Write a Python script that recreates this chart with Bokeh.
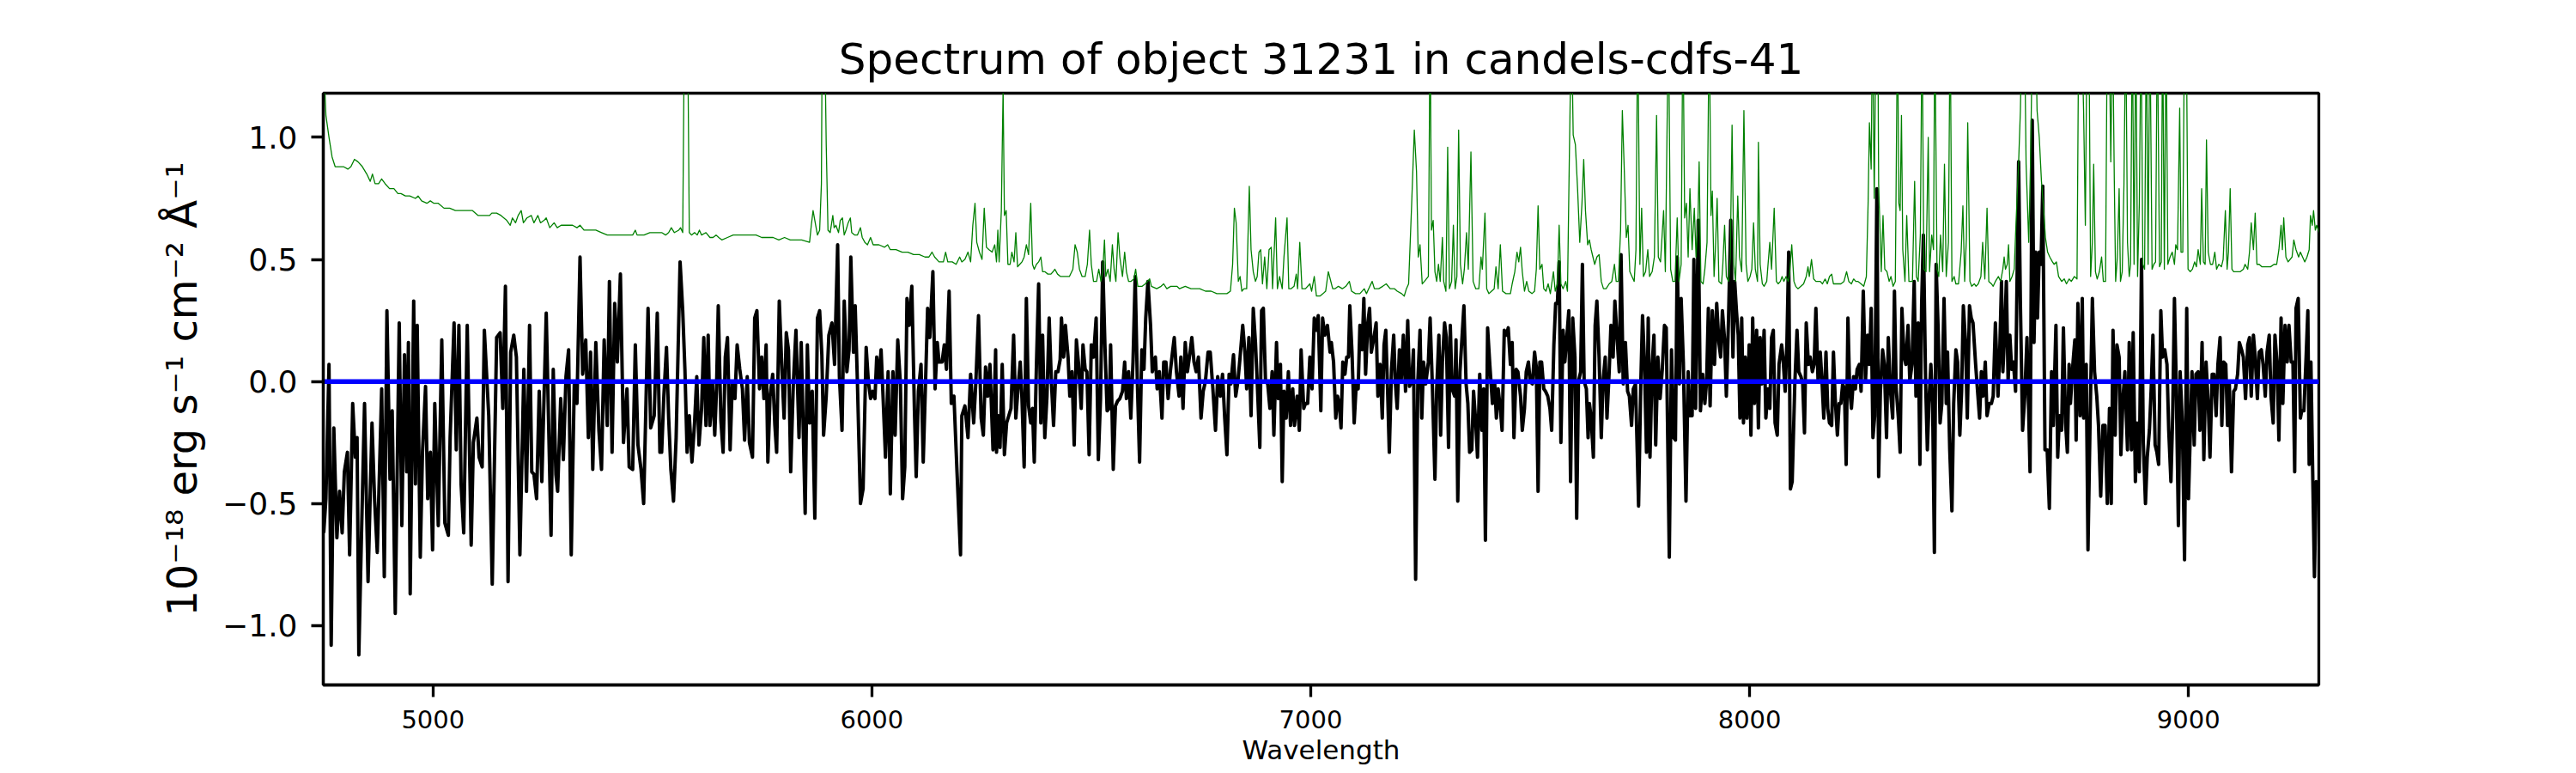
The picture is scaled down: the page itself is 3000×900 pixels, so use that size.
from bokeh.plotting import figure
from bokeh.models import Range1d, FixedTicker, CustomJSTickFormatter
from bokeh.embed import file_html
from bokeh.resources import INLINE

title_text = "Spectrum of object 31231 in candels-cdfs-41"
x_label = "Wavelength"
y_label = "10⁻¹⁸ erg s⁻¹ cm⁻² Å⁻¹"
x_ticks = [5000, 6000, 7000, 8000, 9000]
y_ticks = [-1.0, -0.5, 0.0, 0.5, 1.0]

# observed 1D spectrum (black)
wavelength = [
    4751, 4756, 4763, 4768, 4774, 4781, 4787, 4793, 4798, 4805,
    4810, 4817, 4823, 4827, 4831, 4837, 4844, 4852, 4861, 4867,
    4873, 4878, 4883, 4889, 4895, 4902, 4907, 4914, 4923, 4929,
    4935, 4940, 4944, 4948, 4956, 4960, 4964, 4971, 4976, 4983,
    4988, 4994, 4999, 5004, 5012, 5020, 5027, 5035, 5039, 5048,
    5053, 5059, 5064, 5070, 5078, 5087, 5092, 5100, 5105, 5112,
    5117, 5127, 5135, 5145, 5153, 5159, 5165, 5171, 5177, 5184,
    5190, 5198, 5207, 5213, 5220, 5225, 5230, 5236, 5242, 5248,
    5258, 5264, 5269, 5274, 5280, 5284, 5291, 5297, 5303, 5309,
    5315, 5322, 5328, 5335, 5341, 5348, 5354, 5359, 5364, 5371,
    5378, 5384, 5390, 5397, 5402, 5408, 5414, 5420, 5427, 5434,
    5442, 5447, 5455, 5461, 5467, 5474, 5480, 5485, 5490, 5496,
    5504, 5511, 5517,
    5521, 5526, 5532, 5537, 5542, 5548, 5554, 5563, 5569, 5574,
    5579, 5584, 5590, 5596, 5601, 5606, 5612, 5617, 5622, 5627,
    5631, 5637, 5642, 5646, 5650, 5656, 5661, 5666, 5671, 5677,
    5682, 5688, 5693, 5699, 5705, 5710, 5716, 5721, 5728, 5733,
    5738, 5744, 5749, 5754, 5759, 5763, 5768, 5774, 5779, 5783,
    5789, 5795, 5800, 5805, 5810, 5815, 5821, 5827, 5834, 5839,
    5843, 5848, 5853, 5858, 5864, 5870, 5876, 5881, 5886, 5890,
    5896, 5902, 5909, 5915, 5922, 5926, 5932, 5937, 5943, 5948,
    5952, 5958, 5962, 5967, 5974, 5980, 5987, 5992, 5997, 6002,
    6007, 6011, 6016, 6021, 6025, 6031, 6037, 6042, 6048, 6053,
    6059, 6065, 6070, 6075, 6080, 6085, 6091, 6097, 6101, 6106,
    6112, 6117, 6123, 6127, 6132, 6139, 6144, 6149, 6153, 6160,
    6165, 6170, 6176, 6181, 6187, 6194, 6202, 6205, 6212, 6219,
    6225, 6232, 6237, 6243, 6249, 6254, 6259, 6264, 6269, 6276,
    6282,
    6284, 6288, 6292, 6297, 6302, 6307, 6312, 6317, 6323, 6328,
    6333, 6338, 6342, 6347, 6352, 6357, 6362, 6366, 6370, 6375,
    6380, 6385, 6389, 6394, 6399, 6404, 6409, 6414, 6419, 6424,
    6429, 6432, 6437, 6441, 6447, 6451, 6456, 6461, 6466, 6471,
    6477, 6481, 6486, 6490, 6495, 6500, 6505, 6511, 6516, 6521,
    6526, 6531, 6536, 6541, 6544, 6550, 6555, 6560, 6565, 6571,
    6576, 6580, 6585, 6590, 6595, 6600, 6605, 6610, 6615, 6620,
    6624, 6629, 6635, 6639, 6646, 6650, 6655, 6661, 6665, 6670,
    6675, 6680, 6685, 6689, 6694, 6700, 6704, 6709, 6714, 6719,
    6725, 6729, 6734, 6739, 6744, 6750, 6755, 6760, 6766, 6771,
    6777, 6783, 6788, 6794, 6799, 6804, 6809, 6814, 6818, 6824,
    6829, 6834, 6839, 6845, 6850, 6854, 6859, 6864, 6869, 6874,
    6878, 6884, 6888, 6892, 6897, 6902, 6907, 6912, 6916, 6922,
    6926, 6931, 6935, 6939, 6944, 6949, 6954, 6959, 6963, 6969,
    6974, 6978, 6984, 6988, 6993, 6998, 7003, 7008, 7013, 7017,
    7023, 7027, 7032, 7038, 7044,
    7047, 7052, 7057, 7061, 7065, 7069, 7073, 7078, 7082, 7086,
    7089, 7094, 7099, 7104, 7108, 7112, 7117, 7121, 7125, 7130,
    7134, 7138, 7144, 7149, 7153, 7158, 7163, 7167, 7171, 7175,
    7179, 7184, 7189, 7193, 7197, 7202, 7206, 7211, 7216, 7221,
    7225, 7230, 7234, 7239, 7244, 7249, 7253, 7257, 7262, 7268,
    7272, 7277, 7283, 7287, 7292, 7296, 7300, 7305, 7309, 7314,
    7318, 7322, 7328, 7331, 7335, 7340, 7345, 7349, 7354, 7358,
    7362, 7367, 7371, 7376, 7380, 7385, 7390, 7394, 7398, 7403,
    7408, 7414, 7419, 7423, 7427, 7432, 7436, 7441, 7446, 7450,
    7455, 7459, 7463, 7468, 7472, 7478, 7482, 7487, 7491, 7496,
    7500, 7505, 7510, 7514, 7518, 7522, 7526, 7531, 7535, 7540,
    7545, 7549, 7554, 7558, 7562, 7566, 7570, 7575, 7579, 7583,
    7588, 7592, 7597, 7602, 7606, 7610, 7615, 7619, 7623, 7628,
    7632, 7635, 7639, 7644, 7648, 7652, 7657, 7662, 7666, 7671,
    7675, 7680, 7684, 7689, 7693, 7698, 7703, 7707, 7712, 7717,
    7722, 7726, 7731, 7735, 7740, 7744, 7747, 7752, 7756, 7760,
    7765, 7769, 7773, 7778, 7782, 7786, 7791, 7796, 7801, 7806,
    7810, 7817, 7822, 7827, 7831, 7835, 7840, 7844, 7849, 7855,
    7860, 7864, 7869, 7873, 7877, 7883, 7888, 7893, 7898, 7902,
    7906, 7910, 7915, 7920, 7925, 7930, 7934, 7938, 7943, 7947,
    7952, 7957, 7962, 7966, 7970, 7974, 7978, 7982, 7986, 7990,
    7994, 7999, 8003, 8007, 8011, 8016, 8020, 8024, 8028, 8033,
    8037, 8042, 8046, 8050, 8054, 8058, 8063, 8067, 8073, 8076,
    8081, 8085, 8089, 8093, 8097, 8103, 8108, 8112, 8117, 8121,
    8125, 8129, 8134, 8138, 8143, 8147, 8151, 8156, 8161, 8165,
    8169, 8174, 8178, 8182, 8187, 8191, 8195, 8200, 8204, 8208,
    8212, 8216, 8220, 8224, 8228, 8232, 8237, 8241, 8245, 8250,
    8254, 8259, 8264, 8269, 8273, 8277, 8281, 8285, 8290, 8294,
    8298, 8303, 8307, 8312, 8316, 8321, 8326, 8330, 8334, 8339,
    8343, 8347, 8352, 8356, 8361, 8365, 8370, 8375, 8379, 8384,
    8388, 8392, 8396, 8401, 8405, 8409, 8413, 8417, 8421, 8425,
    8430, 8434, 8438, 8443, 8448, 8451, 8456, 8461, 8465, 8470,
    8474, 8479, 8483, 8487, 8492, 8496, 8501, 8505, 8509, 8515,
    8519, 8524, 8528, 8532, 8537, 8541, 8546, 8551, 8555, 8560,
    8566, 8570,
    8574, 8577, 8581, 8585, 8589, 8593, 8597, 8601, 8606, 8613,
    8617, 8622, 8627, 8632, 8639, 8644, 8648, 8652, 8656, 8660,
    8664, 8668, 8673, 8678, 8683, 8688, 8692, 8698, 8702, 8706,
    8711, 8715, 8720, 8724, 8728, 8731, 8737, 8741, 8744, 8748,
    8753, 8758, 8761, 8767, 8771, 8776, 8781, 8786, 8791, 8795,
    8800, 8805, 8810, 8815, 8820, 8824, 8828, 8833, 8837, 8842,
    8846, 8851, 8855, 8861, 8865, 8870, 8874, 8879, 8883, 8888,
    8893, 8897, 8902, 8906, 8911, 8915, 8919, 8924, 8928, 8932,
    8937, 8941, 8946, 8951, 8955, 8960, 8964, 8968, 8972, 8977,
    8981, 8986, 8991, 8996, 9000, 9004, 9008, 9013, 9017, 9022,
    9026, 9031, 9035, 9040, 9045, 9049, 9054, 9058, 9063, 9067,
    9072, 9076, 9080, 9085, 9089, 9093, 9098, 9103, 9107, 9112,
    9116, 9121, 9125, 9130, 9135, 9139, 9143, 9148, 9152, 9157,
    9161, 9166, 9170, 9175, 9179, 9184, 9188, 9193, 9197, 9202,
    9206, 9211, 9215, 9220, 9225, 9229, 9234, 9238, 9242, 9245,
    9250, 9255, 9258, 9263, 9268, 9272, 9275, 9279, 9283, 9287,
    9291, 9295, 9298,
]
flux = [
    -0.62, -0.48, 0.07, -1.08, -0.19, -0.64, -0.45, -0.62, -0.37, -0.29,
    -0.71, -0.09, -0.31, -0.23, -1.12, -0.63, -0.09, -0.82, -0.17, -0.49,
    -0.70, -0.37, -0.03, -0.80, 0.29, -0.40, -0.12, -0.95, 0.24, -0.59,
    0.11, -0.37, 0.16, -0.87, 0.33, -0.42, 0.23, -0.72, -0.29, -0.02,
    -0.48, -0.29, -0.69, -0.09, -0.59, 0.17, -0.58, -0.63, -0.23, 0.24,
    -0.28, 0.23, -0.42, -0.62, 0.23, -0.67, -0.25, -0.15, -0.31, -0.35,
    0.21, -0.14, -0.83, 0.18, 0.20, -0.11, 0.39, -0.82, 0.12, 0.19,
    0.10, -0.71, 0.05, -0.45, 0.23, -0.37, -0.38, -0.48, -0.04, -0.41,
    0.28, -0.22, -0.63, 0.05, -0.38, -0.45, -0.07, -0.32, 0.02, 0.13,
    -0.71, 0.00, -0.09, 0.51, 0.03, 0.17, -0.23, 0.12, -0.36, 0.16,
    -0.20, -0.36, 0.17, -0.18, 0.41, -0.29, 0.32, 0.08, 0.44, -0.25,
    -0.03, -0.35, -0.36, 0.15, -0.26, -0.36, -0.50, -0.11, 0.30, -0.19,
    -0.14, 0.28, -0.29,
    -0.29, -0.06, 0.14, -0.15, -0.36, -0.49, -0.23, 0.49, 0.29, 0.05,
    -0.29, -0.14, -0.33, -0.17, 0.02, -0.26, -0.11, 0.18, -0.18, 0.19,
    -0.18, -0.01, -0.22, -0.03, 0.31, -0.16, -0.29, 0.10, 0.18, -0.28,
    0.00, -0.07, 0.15, 0.05, -0.03, -0.24, 0.02, -0.25, -0.31, 0.26,
    0.29, -0.03, 0.10, -0.07, 0.15, -0.33, -0.06, 0.03, -0.18, -0.29,
    0.33, 0.05, -0.15, 0.20, 0.13, -0.37, -0.01, 0.21, -0.23, 0.16,
    -0.15, -0.54, 0.15, -0.17, -0.04, -0.56, 0.26, 0.29, 0.11, -0.22,
    -0.06, 0.19, 0.24, 0.07, 0.56, 0.02, -0.20, 0.33, 0.04, 0.13,
    0.51, 0.12, 0.31, 0.00, -0.50, -0.44, 0.14, 0.00, -0.07, -0.04,
    -0.07, 0.10, 0.00, 0.13, -0.04, -0.31, 0.04, -0.46, 0.04, -0.22,
    0.17, -0.01, -0.48, -0.35, 0.34, 0.23, 0.39, -0.12, -0.39, -0.04,
    0.07, -0.33, 0.04, 0.30, 0.18, 0.45, -0.03, 0.16, 0.08, 0.08,
    0.15, 0.05, 0.37, -0.09, -0.06, -0.37, -0.71, -0.14, -0.10, -0.23,
    0.03, -0.17, 0.00, 0.27, -0.15, -0.22, 0.06, -0.06, 0.07, -0.28,
    0.13,
    -0.29, -0.14, -0.27, 0.07, -0.30, -0.17, -0.14, -0.11, 0.19, -0.15,
    -0.03, 0.08, -0.07, -0.35, 0.34, -0.10, -0.17, -0.11, -0.33, 0.07,
    0.40, -0.17, 0.19, -0.23, -0.06, 0.26, 0.00, -0.18, 0.04, 0.04,
    0.09, 0.26, 0.10, 0.23, 0.10, -0.06, 0.04, -0.26, 0.17, 0.07,
    -0.11, 0.15, 0.05, 0.04, -0.30, 0.15, 0.10, 0.26, -0.32, -0.07,
    0.49, 0.15, -0.12, -0.11, 0.15, -0.36, -0.10, -0.08, -0.07, -0.04,
    0.08, -0.07, 0.04, -0.15, 0.08, 0.43, -0.01, -0.33, 0.13, 0.05,
    0.26, 0.41, 0.23, 0.04, 0.10, -0.03, 0.04, -0.15, 0.08, 0.08,
    -0.07, 0.04, 0.12, 0.18, 0.04, -0.06, 0.10, -0.11, 0.16, 0.04,
    0.12, 0.18, 0.08, 0.04, 0.10, -0.15, -0.04, 0.00, 0.12, 0.12,
    -0.03, -0.20, 0.02, -0.06, 0.03, -0.15, -0.30, 0.03, -0.01, 0.11,
    -0.06, 0.00, 0.10, 0.23, 0.12, -0.03, 0.18, -0.14, 0.30, 0.16,
    0.00, -0.27, 0.29, 0.30, 0.00, -0.01, -0.11, 0.04, -0.22, 0.16,
    -0.07, 0.07, -0.41, -0.04, -0.15, 0.04, -0.18, -0.03, -0.18, -0.06,
    -0.20, 0.13, -0.11, -0.09, -0.09, 0.10, -0.03, 0.26, 0.21, 0.27,
    -0.12, 0.26, 0.19, 0.23, 0.12,
    0.16, 0.08, -0.15, -0.06, -0.09, -0.19, 0.08, 0.03, 0.10, 0.10,
    0.31, 0.12, -0.17, 0.00, -0.03, 0.23, 0.13, 0.34, 0.03, 0.24,
    0.30, 0.12, 0.18, 0.24, -0.06, 0.07, -0.15, 0.15, 0.21, -0.03,
    -0.29, 0.05, 0.19, -0.01, -0.11, 0.13, 0.00, 0.19, -0.04, 0.25,
    -0.02, 0.00, 0.13, -0.81, 0.00, 0.21, -0.15, 0.08, -0.01, 0.08,
    0.26, -0.01, -0.40, -0.03, 0.19, -0.22, 0.08, 0.24, 0.18, -0.27,
    0.23, -0.03, -0.06, 0.17, -0.49, 0.04, 0.19, 0.31, -0.01, -0.09,
    -0.29, -0.28, -0.04, -0.17, -0.31, 0.03, -0.20, -0.03, -0.65, 0.22,
    0.07, -0.09, 0.00, -0.15, -0.03, -0.11, -0.20, 0.21, 0.19, 0.22,
    0.07, 0.16, -0.23, 0.05, 0.04, -0.06, -0.20, -0.11, 0.04, 0.08,
    0.00, -0.01, 0.12, 0.06, -0.45, 0.08, 0.08, -0.03, -0.04, -0.06,
    -0.11, -0.20, 0.15, 0.32, 0.32, 0.49, -0.25, 0.21, 0.08, 0.17,
    0.29, -0.41, 0.26, 0.10, -0.56, 0.00, 0.04, 0.48, 0.00, -0.03,
    -0.23, -0.09, -0.15, -0.31, 0.23, 0.33, 0.10, -0.23, 0.00, 0.10,
    -0.15, 0.04, 0.23, 0.10, 0.33, 0.18, 0.04, 0.52, -0.01, 0.16,
    -0.04, -0.06, -0.18, -0.03, -0.01, -0.29, -0.51, -0.01, 0.27, 0.10,
    -0.29, 0.26, -0.31, 0.07, 0.19, -0.26, 0.10, -0.07, 0.05, 0.23,
    0.22, -0.72, 0.13, -0.23, -0.24, 0.51, -0.01, 0.34, 0.08, -0.49,
    0.04, -0.14, -0.14, 0.50, -0.11, 0.66, -0.12, 0.03, -0.09, 0.00,
    0.30, -0.10, 0.29, 0.07, 0.32, 0.16, 0.10, 0.29, 0.17, -0.06,
    0.26, 0.66, 0.10, 0.41, 0.29, 0.19, -0.15, 0.26, -0.17, 0.10,
    -0.15, 0.15, -0.22, 0.26, -0.09, 0.21, -0.19, 0.18, -0.01, 0.21,
    -0.15, -0.03, -0.11, 0.18, 0.21, -0.17, -0.22, 0.07, 0.15, 0.10,
    -0.04, 0.16, 0.53, -0.44, -0.41, -0.01, 0.21, 0.04, 0.02, -0.01,
    -0.21, 0.24, 0.07, 0.10, 0.04, 0.07, 0.30, 0.00, 0.12, 0.00,
    -0.15, 0.12, -0.11, -0.17, -0.18, 0.12, -0.07, -0.22, -0.09, -0.09,
    -0.01, -0.03, -0.34, 0.26, -0.03, -0.11, 0.02, -0.03, 0.05, 0.07,
    -0.04, 0.37, 0.00, 0.19, 0.07, 0.30, -0.23, -0.14, 0.79, -0.39,
    -0.04, 0.13, 0.07, -0.23, 0.18, -0.04, -0.15, 0.37, -0.03, -0.15,
    -0.29, 0.30, 0.10, 0.07, 0.23, 0.00, 0.07, 0.41, -0.06, 0.24,
    -0.34, 0.32, 0.60, 0.00, -0.28, -0.07, 0.07, -0.09, -0.70, 0.48,
    0.19, -0.17, -0.09, 0.34, -0.09, 0.12, -0.28, -0.53, -0.09, 0.13,
    0.08, -0.22, -0.04, 0.31, 0.16, -0.15, 0.31, 0.26, 0.24, 0.07,
    -0.03, -0.15, 0.04, -0.06, 0.08, -0.14, -0.09, -0.09, -0.06, 0.24,
    -0.06, 0.13,
    0.41, 0.04, 0.19, 0.41, 0.00, 0.19, 0.05, 0.08, -0.04, 0.90,
    0.32, -0.20, -0.06, 0.18, -0.37, 1.07, 0.16, 0.53, 0.26, 0.53,
    0.48, 0.80, -0.28, -0.28, -0.52, 0.04, -0.18, 0.23, -0.31, -0.14,
    -0.20, 0.22, -0.17, -0.29, 0.07, -0.09, 0.08, 0.17, -0.24, 0.32,
    -0.14, 0.34, -0.15, 0.07, -0.69, -0.14, 0.34, 0.04, -0.06, -0.18,
    -0.47, -0.18, -0.18, -0.50, -0.11, -0.50, 0.21, -0.22, 0.15, 0.10,
    -0.30, -0.06, 0.04, -0.28, 0.16, -0.28, 0.20, -0.41, -0.17, -0.37,
    0.50, -0.25, -0.50, -0.31, -0.20, -0.03, 0.19, -0.26, -0.29, -0.34,
    0.29, 0.10, 0.13, 0.07, -0.20, -0.41, -0.14, 0.34, 0.00, -0.59,
    0.04, -0.17, -0.73, 0.30, -0.48, -0.22, 0.04, -0.26, 0.03, 0.04,
    -0.20, 0.16, -0.32, 0.08, -0.09, -0.31, 0.03, 0.03, -0.14, 0.07,
    0.18, -0.18, 0.08, 0.07, -0.18, 0.00, -0.37, -0.04, -0.03, 0.03,
    0.16, 0.13, 0.10, -0.07, 0.15, 0.18, -0.06, 0.19, 0.10, -0.07,
    0.12, 0.13, 0.07, -0.06, 0.12, 0.19, -0.06, -0.17, 0.19, 0.07,
    -0.24, 0.26, -0.09, 0.23, 0.08, 0.23, 0.08, 0.08, -0.37, 0.30,
    0.34, -0.15, -0.12, -0.12, 0.10, 0.29, -0.34, 0.08, -0.37, -0.80,
    -0.41, -0.48, -0.41,
]

# sky / noise spectrum (green)
sky_wavelength = [
    4751, 4756, 4763, 4770, 4777, 4787, 4796, 4806, 4813, 4821,
    4829, 4839, 4849, 4857, 4862, 4868, 4876, 4883, 4891, 4901,
    4911, 4920, 4927, 4937, 4947, 4960, 4966, 4974, 4986, 4994,
    5002, 5012, 5025, 5038, 5051, 5064, 5077, 5090, 5103, 5116,
    5129, 5134, 5145, 5155, 5168, 5176, 5181, 5188, 5194, 5201,
    5206, 5214, 5224, 5230, 5239, 5245, 5253, 5258, 5266, 5276,
    5283, 5292, 5305, 5318, 5328, 5335, 5344, 5357, 5371, 5384,
    5397, 5406, 5419, 5436, 5446, 5455, 5461, 5465, 5481, 5494,
    5508, 5521,
    5530, 5537, 5543, 5550, 5560, 5564, 5569, 5573, 5580, 5584,
    5589, 5596, 5602, 5607, 5612, 5622, 5631, 5638, 5645, 5651,
    5658, 5671, 5684, 5697, 5710, 5723, 5736, 5749, 5762, 5775,
    5788, 5801, 5814, 5827, 5840, 5858, 5862, 5866, 5872, 5876,
    5881, 5885, 5887, 5892, 5896, 5900, 5905, 5911, 5914, 5918,
    5924, 5928, 5933, 5937, 5941, 5946, 5951, 5954, 5961, 5967,
    5974, 5978, 5984, 5990, 5997, 6003, 6016, 6029, 6036, 6042,
    6055, 6069, 6082, 6095, 6108, 6121, 6130, 6137, 6143, 6153,
    6163, 6168, 6173, 6183, 6192, 6200, 6205, 6212, 6219, 6225,
    6230, 6235, 6239, 6245, 6251, 6256, 6261, 6267, 6274, 6280,
    6284, 6287, 6290, 6295, 6299, 6302, 6306, 6310, 6315, 6319,
    6324, 6328, 6332, 6337, 6342, 6347, 6352, 6357, 6362, 6366,
    6370, 6375, 6380, 6385, 6389, 6394, 6401, 6408, 6413, 6417,
    6423, 6430, 6440, 6450, 6458, 6463, 6468, 6473, 6479, 6486,
    6491, 6496, 6500, 6505, 6512, 6517, 6522, 6526, 6530, 6533,
    6538, 6543, 6548, 6552, 6556, 6561, 6565, 6571, 6576, 6580,
    6585, 6590, 6597, 6601, 6606, 6616, 6623, 6628, 6633, 6637,
    6649, 6659, 6665, 6672, 6681, 6695, 6701, 6714, 6727, 6740,
    6747, 6760, 6773, 6786, 6799, 6809, 6817, 6822, 6826, 6830,
    6835, 6839, 6843, 6848, 6854, 6860, 6864, 6869, 6874, 6878,
    6882, 6886, 6890, 6895, 6900, 6905, 6910, 6913, 6920, 6924,
    6929, 6935, 6939, 6946, 6950, 6955, 6962, 6967, 6970, 6975,
    6980, 6988, 6998, 7002, 7008, 7013, 7021, 7028, 7034, 7040,
    7050, 7055, 7063, 7072, 7080, 7088, 7093, 7102, 7112, 7122,
    7127, 7132, 7140, 7145, 7155, 7164, 7172, 7181, 7191, 7197,
    7207, 7213, 7218, 7223, 7230, 7236, 7241, 7245, 7249, 7254,
    7259, 7268, 7272, 7275, 7279, 7283, 7287, 7291, 7295, 7300,
    7303, 7308, 7312, 7316, 7321, 7325, 7329, 7333, 7337, 7341,
    7346, 7350, 7355, 7359, 7365, 7370, 7376, 7383, 7388, 7391,
    7397, 7401, 7406, 7412, 7418, 7422, 7427, 7432, 7437, 7445,
    7455, 7459, 7465, 7470, 7474, 7478, 7482, 7487, 7492, 7497,
    7504, 7510, 7514, 7518, 7522, 7527, 7531, 7536, 7541, 7546,
    7553, 7557, 7562, 7566, 7570, 7575, 7581, 7585, 7589, 7594,
    7598, 7603, 7608, 7613, 7618, 7622, 7626, 7631, 7635, 7639,
    7643, 7647, 7652, 7657, 7662, 7667, 7673, 7680, 7686, 7692,
    7696, 7701, 7706, 7710, 7714, 7719, 7723, 7727, 7732, 7737,
    7741, 7745, 7750, 7754, 7758, 7763, 7768, 7772, 7778, 7783,
    7788, 7792, 7797, 7804, 7808,
    7815, 7820, 7825, 7830, 7835, 7839, 7844, 7848, 7852, 7856,
    7860, 7864, 7869, 7874, 7878, 7882, 7885, 7889, 7894, 7898,
    7903, 7908, 7912, 7915, 7919, 7922, 7926, 7930, 7936, 7939,
    7943, 7947, 7952, 7956, 7960, 7964, 7968, 7973, 7977, 7982,
    7987, 7992, 7996, 8001, 8005, 8009, 8013, 8018, 8020, 8024,
    8029, 8033, 8039, 8042, 8046, 8050, 8056, 8061, 8065, 8070,
    8074, 8078, 8083, 8088, 8091, 8096, 8101, 8105, 8110, 8117,
    8123, 8129, 8133, 8136, 8141, 8146, 8151, 8156, 8161, 8166,
    8172, 8177, 8182, 8187, 8191, 8196, 8202, 8208, 8215, 8221,
    8226, 8232, 8237, 8242, 8247, 8254, 8260, 8266, 8270, 8273,
    8277, 8280, 8284, 8288, 8292, 8294, 8300, 8304, 8308, 8313,
    8318, 8322, 8327, 8332, 8337, 8340, 8343, 8346, 8349, 8354,
    8358, 8363, 8367, 8371, 8376, 8380, 8384, 8389, 8393, 8397,
    8402, 8407, 8410, 8415, 8419, 8422, 8427, 8431, 8435, 8440,
    8444, 8448, 8453, 8457, 8461, 8466, 8470, 8476, 8482, 8486,
    8490, 8494, 8497, 8502, 8506, 8512, 8516, 8521, 8527, 8531,
    8536, 8541, 8545, 8551, 8555, 8560, 8567, 8572,
    8577, 8580, 8583, 8587, 8590, 8593, 8598, 8603, 8607, 8613,
    8617, 8621, 8626, 8630, 8636, 8640, 8645, 8651, 8655, 8660,
    8665, 8669, 8674, 8679, 8684, 8690, 8694, 8699, 8704, 8711,
    8717, 8722, 8728, 8733, 8740, 8746, 8750, 8756, 8761, 8765,
    8769, 8773, 8777, 8781, 8784, 8788, 8792, 8797, 8802, 8806,
    8811, 8815, 8819, 8823, 8827, 8831, 8834, 8838, 8842, 8845,
    8849, 8853, 8857, 8861, 8865, 8868, 8872, 8876, 8880, 8884,
    8888, 8892, 8896, 8900, 8904, 8908, 8912, 8917, 8921, 8925,
    8929, 8934, 8938, 8941, 8945, 8949, 8953, 8958, 8963, 8968,
    8971, 8975, 8980, 8983, 8987, 8991, 8995, 8999, 9004, 9009,
    9014, 9018, 9022, 9027, 9030, 9034, 9038, 9041, 9045, 9050,
    9055, 9060, 9064, 9069, 9075, 9079, 9084, 9088, 9091, 9095,
    9099, 9103, 9112, 9118, 9125, 9129, 9135, 9139, 9143, 9148,
    9152, 9156, 9161, 9167, 9177, 9187, 9195, 9201, 9206, 9211,
    9214, 9217, 9222, 9227, 9236, 9240, 9245, 9251, 9255, 9260,
    9265, 9270, 9275, 9278, 9282, 9285, 9289, 9292, 9298,
]
sky_flux = [
    1.30, 1.09, 1.00, 0.92, 0.88, 0.88, 0.88, 0.87, 0.88, 0.91,
    0.90, 0.88, 0.85, 0.82, 0.85, 0.81, 0.81, 0.83, 0.81, 0.79,
    0.79, 0.77, 0.77, 0.76, 0.76, 0.75, 0.76, 0.74, 0.73, 0.74,
    0.73, 0.73, 0.71, 0.71, 0.70, 0.70, 0.70, 0.70, 0.68, 0.68,
    0.68, 0.69, 0.69, 0.68, 0.66, 0.64, 0.67, 0.65, 0.68, 0.70,
    0.65, 0.67, 0.68, 0.65, 0.68, 0.65, 0.66, 0.67, 0.63, 0.65,
    0.63, 0.64, 0.64, 0.64, 0.63, 0.64, 0.62, 0.62, 0.62, 0.61,
    0.60, 0.60, 0.60, 0.60, 0.60, 0.60, 0.62, 0.60, 0.60, 0.61,
    0.61, 0.61,
    0.60, 0.61, 0.63, 0.61, 0.62, 0.63, 0.61, 1.50, 1.50, 0.61,
    0.60, 0.61, 0.60, 0.62, 0.60, 0.61, 0.59, 0.59, 0.60, 0.59,
    0.58, 0.59, 0.60, 0.60, 0.60, 0.60, 0.60, 0.59, 0.59, 0.59,
    0.58, 0.59, 0.58, 0.58, 0.58, 0.57, 0.64, 0.70, 0.64, 0.60,
    0.62, 0.81, 1.50, 1.50, 0.97, 0.62, 0.61, 0.68, 0.63, 0.64,
    0.61, 0.66, 0.67, 0.60, 0.62, 0.65, 0.67, 0.61, 0.60, 0.60,
    0.63, 0.59, 0.57, 0.56, 0.59, 0.56, 0.56, 0.55, 0.56, 0.54,
    0.54, 0.53, 0.53, 0.52, 0.52, 0.51, 0.51, 0.53, 0.51, 0.49,
    0.49, 0.53, 0.49, 0.49, 0.48, 0.51, 0.49, 0.50, 0.53, 0.49,
    0.64, 0.73, 0.57, 0.53, 0.50, 0.71, 0.55, 0.54, 0.53, 0.56,
    0.49, 0.62, 0.49, 0.70, 1.20, 0.68, 0.70, 0.48, 0.48, 0.53,
    0.49, 0.61, 0.47, 0.48, 0.49, 0.51, 0.56, 0.52, 0.73, 0.48,
    0.46, 0.48, 0.49, 0.51, 0.45, 0.45, 0.44, 0.44, 0.45, 0.46,
    0.44, 0.43, 0.43, 0.43, 0.46, 0.56, 0.53, 0.46, 0.43, 0.43,
    0.48, 0.62, 0.48, 0.41, 0.41, 0.46, 0.41, 0.45, 0.58, 0.43,
    0.46, 0.41, 0.56, 0.46, 0.41, 0.61, 0.51, 0.43, 0.53, 0.45,
    0.41, 0.41, 0.42, 0.46, 0.39, 0.39, 0.40, 0.41, 0.42, 0.39,
    0.38, 0.39, 0.40, 0.38, 0.39, 0.39, 0.38, 0.39, 0.38, 0.38,
    0.38, 0.37, 0.37, 0.36, 0.36, 0.36, 0.37, 0.48, 0.71, 0.65,
    0.41, 0.43, 0.37, 0.38, 0.38, 0.80, 0.54, 0.45, 0.41, 0.43,
    0.53, 0.54, 0.40, 0.51, 0.38, 0.54, 0.55, 0.38, 0.67, 0.38,
    0.43, 0.38, 0.51, 0.67, 0.38, 0.38, 0.39, 0.44, 0.38, 0.57,
    0.38, 0.38, 0.40, 0.37, 0.43, 0.35, 0.35, 0.36, 0.37, 0.45,
    0.38, 0.38, 0.39, 0.38, 0.39, 0.41, 0.37, 0.36, 0.36, 0.38,
    0.36, 0.38, 0.41, 0.38, 0.38, 0.39, 0.40, 0.38, 0.38, 0.37,
    0.36, 0.35, 0.38, 0.40, 0.73, 1.03, 0.86, 0.51, 0.56, 0.40,
    0.41, 0.43, 1.50, 0.62, 0.66, 0.45, 0.41, 0.48, 0.41, 0.59,
    0.41, 0.37, 0.96, 0.38, 0.41, 0.64, 0.38, 0.43, 1.03, 0.48,
    0.40, 0.46, 0.61, 0.46, 0.94, 0.41, 0.38, 0.38, 0.51, 0.46,
    0.69, 0.38, 0.36, 0.37, 0.38, 0.47, 0.38, 0.56, 0.37, 0.36,
    0.36, 0.40, 0.45, 0.53, 0.49, 0.55, 0.45, 0.37, 0.41, 0.37,
    0.36, 0.37, 0.46, 0.72, 0.46, 0.48, 0.38, 0.37, 0.40, 0.36,
    0.45, 0.37, 0.40, 0.64, 0.40, 0.38, 0.41, 0.37, 0.89, 1.50,
    1.01, 0.97, 0.79, 0.57, 0.73, 0.91, 0.70, 0.56, 0.58, 0.54,
    0.51, 0.48, 0.51, 0.52, 0.41, 0.38, 0.38, 0.40, 0.41, 0.48,
    0.41, 0.41, 0.62, 1.11, 0.89, 0.59, 0.64, 0.45, 0.43, 0.41,
    0.54, 1.50, 0.48, 0.71, 0.43, 0.45, 0.54, 0.43, 0.45, 0.51,
    1.09, 0.51, 0.49, 0.70, 0.45,
    1.50, 0.46, 0.41, 0.41, 0.67, 0.41, 0.48, 1.50, 0.67, 0.73,
    0.51, 0.79, 0.54, 0.71, 0.51, 0.64, 0.90, 0.41, 0.40, 0.46,
    0.57, 1.50, 0.68, 0.78, 0.43, 0.54, 0.75, 0.41, 0.40, 0.48,
    0.64, 0.43, 0.41, 0.51, 1.05, 0.48, 0.41, 0.76, 0.51, 0.45,
    1.11, 0.48, 0.41, 0.43, 0.46, 0.65, 0.46, 0.41, 0.98, 0.48,
    0.40, 0.39, 0.41, 0.48, 0.57, 0.46, 0.71, 0.41, 0.40, 0.41,
    0.43, 0.41, 0.43, 0.41, 0.44, 0.56, 0.41, 0.39, 0.38, 0.39,
    0.40, 0.43, 0.47, 0.43, 0.50, 0.42, 0.41, 0.41, 0.41, 0.40,
    0.42, 0.40, 0.43, 0.44, 0.40, 0.40, 0.40, 0.40, 0.41, 0.45,
    0.41, 0.40, 0.42, 0.41, 0.41, 0.40, 0.39, 0.43, 0.73, 1.06,
    0.87, 1.50, 0.75, 1.50, 1.50, 0.81, 0.45, 0.68, 0.46, 0.45,
    0.41, 0.43, 0.39, 0.41, 1.50, 0.73, 0.70, 1.09, 0.54, 0.41,
    0.68, 0.41, 0.41, 0.41, 0.82, 0.43, 0.41, 0.60, 1.50, 0.46,
    0.45, 1.00, 0.45, 0.60, 0.54, 1.50, 0.46, 0.43, 0.60, 0.45,
    0.89, 0.43, 0.57, 1.50, 0.41, 0.43, 0.40, 0.40, 0.53, 0.72,
    0.41, 0.59, 1.06, 0.41, 0.39, 0.40, 0.39, 0.40, 0.43, 0.57,
    0.42, 0.71, 0.41, 0.40, 0.39, 0.41, 0.43, 0.41,
    0.46, 0.51, 0.46, 0.48, 0.56, 0.41, 0.43, 0.46, 0.65, 0.90,
    1.11, 1.50, 1.50, 0.89, 0.57, 0.89, 1.50, 1.50, 1.11, 1.00,
    0.82, 0.73, 0.59, 0.53, 0.51, 0.49, 0.48, 0.49, 0.43, 0.41,
    0.42, 0.40, 0.42, 0.41, 0.43, 0.42, 1.50, 1.50, 1.11, 0.64,
    1.50, 1.50, 0.43, 0.57, 0.89, 0.45, 0.42, 0.45, 0.51, 0.41,
    0.41, 1.50, 1.50, 0.90, 1.50, 0.82, 0.41, 0.51, 0.79, 0.41,
    0.45, 0.81, 1.50, 0.57, 0.43, 0.48, 1.50, 0.48, 1.50, 0.43,
    0.73, 1.50, 0.48, 0.46, 1.50, 0.48, 1.50, 0.46, 0.48, 0.49,
    1.50, 0.47, 0.49, 1.50, 0.46, 1.50, 0.48, 0.51, 0.53, 0.48,
    0.56, 0.54, 1.12, 0.53, 0.53, 1.50, 1.50, 0.46, 0.45, 0.46,
    0.49, 0.47, 0.54, 0.48, 0.79, 0.49, 0.48, 0.99, 0.53, 0.48,
    0.48, 0.53, 0.46, 0.48, 0.47, 0.50, 0.70, 0.46, 0.53, 0.79,
    0.46, 0.45, 0.45, 0.45, 0.46, 0.48, 0.46, 0.53, 0.65, 0.54,
    0.69, 0.48, 0.48, 0.47, 0.47, 0.47, 0.48, 0.48, 0.54, 0.64,
    0.54, 0.67, 0.51, 0.49, 0.51, 0.58, 0.54, 0.51, 0.53, 0.51,
    0.49, 0.51, 0.54, 0.68, 0.64, 0.70, 0.62, 0.64, 0.61,
]

# model (blue)
model_wavelength = [4751, 9298]
model_flux = [0.0, 0.0]

assert len(wavelength) == len(flux), (len(wavelength), len(flux))
assert len(sky_wavelength) == len(sky_flux), (len(sky_wavelength), len(sky_flux))

FONT = "DejaVu Sans"

p = figure(
    width=2988, height=893,
    output_backend="svg", toolbar_location=None,
    x_range=Range1d(4750, 9297), y_range=Range1d(-1.243, 1.181),
    min_border_left=376, min_border_right=288,
    min_border_top=108, min_border_bottom=92,
    title=title_text,
    background_fill_color="white", border_fill_color="white",
)

p.title.text_font = FONT
p.title.text_font_size = "50px"
p.title.text_font_style = "normal"
p.title.text_color = "black"
p.title.align = "center"
p.title.standoff = 22

p.line(wavelength, flux, line_color="black", line_width=4, line_join="round")
p.line(sky_wavelength, sky_flux, line_color="#008000", line_width=1.3, line_join="round")
p.line(model_wavelength, model_flux, line_color="#0000ff", line_width=5.5)

p.xgrid.visible = False
p.ygrid.visible = False
p.outline_line_color = "black"
p.outline_line_width = 3.3
p.outline_line_alpha = 1.0

for ax in (p.xaxis[0], p.yaxis[0]):
    ax.axis_line_color = "black"
    ax.axis_line_width = 3.3
    ax.major_tick_line_color = "black"
    ax.major_tick_line_width = 3.3
    ax.major_tick_out = 14
    ax.major_tick_in = 0
    ax.minor_tick_line_color = None
    ax.major_label_text_font = FONT
    ax.major_label_text_color = "black"
    ax.axis_label_text_font = FONT
    ax.axis_label_text_font_style = "normal"
    ax.axis_label_text_color = "black"

xa = p.xaxis[0]
xa.ticker = FixedTicker(ticks=x_ticks)
xa.axis_label = x_label
xa.major_label_text_font_size = "29px"
xa.axis_label_text_font_size = "31px"
xa.major_label_standoff = 15
xa.axis_label_standoff = 4

ya = p.yaxis[0]
ya.ticker = FixedTicker(ticks=y_ticks)
ya.formatter = CustomJSTickFormatter(code="return (tick < 0 ? '\u2212' : '') + Math.abs(tick).toFixed(1);")
ya.axis_label = y_label
ya.major_label_text_font_size = "36px"
ya.axis_label_text_font_size = "48px"
ya.major_label_standoff = 16
ya.axis_label_standoff = 16

open("out.html", "w").write(file_html(p, INLINE))
